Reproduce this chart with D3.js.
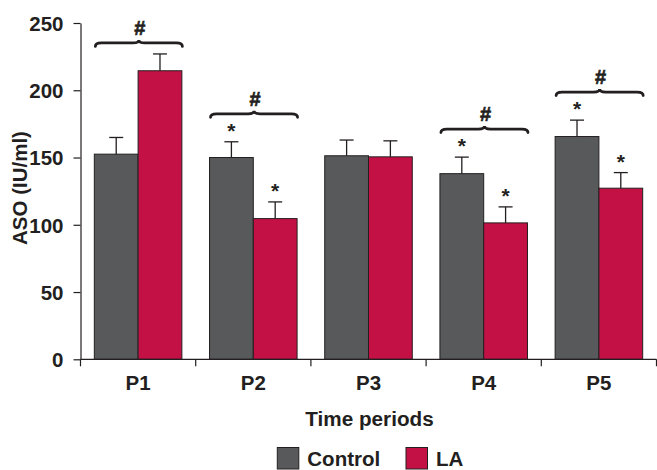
<!DOCTYPE html>
<html>
<head>
<meta charset="utf-8">
<script src="https://cdn.jsdelivr.net/npm/d3@7"></script>
<style>
  body { margin: 0; background: #fff; }
  text { font-family: "Liberation Sans", Arial, Helvetica, sans-serif; font-weight: bold; fill: #231f20; }
</style>
</head>
<body>
<div id="chart"></div>
<script>
const periods = ["P1", "P2", "P3", "P4", "P5"];
const series = ["Control", "LA"];
const control = [152.5, 150, 151.3, 138, 165.6];
const controlErr = [12.4, 11.7, 11.7, 12.3, 12.2];
const la = [214.5, 104.6, 150.5, 101.4, 127.2];
const laErr = [12.5, 12.4, 11.9, 11.9, 11.6];
const controlStar = [false, true, false, true, true];
const laStar = [false, true, false, true, true];
const hash = [true, true, false, true, true];
const yTicks = [0, 50, 100, 150, 200, 250];

const colors = { Control: "#58595b", LA: "#c41145" };
const ink = "#231f20";

const width = 657, height = 470;
const margin = { left: 80.5, right: 0.5, top: 23, bottom: 110.7 };

const svg = d3.select("#chart").append("svg")
  .attr("width", width).attr("height", height);

const x0 = d3.scaleBand().domain(periods)
  .range([margin.left, width - margin.right]).padding(0);
const x1 = d3.scaleBand().domain(series)
  .range([x0.bandwidth() * 0.12, x0.bandwidth() * 0.88]).padding(0);
const y = d3.scaleLinear().domain([0, 250])
  .range([height - margin.bottom, margin.top]);

// rows of data
const rows = periods.map((p, i) => ({
  period: p,
  hash: hash[i],
  bars: [
    { key: "Control", value: control[i], err: controlErr[i], star: controlStar[i] },
    { key: "LA", value: la[i], err: laErr[i], star: laStar[i] }
  ]
}));

// y axis
const yAxis = svg.append("g")
  .attr("transform", `translate(${margin.left},0)`)
  .call(d3.axisLeft(y).tickValues(yTicks).tickSize(7).tickPadding(10).tickSizeOuter(0));
yAxis.select(".domain").attr("stroke", ink).attr("stroke-width", 1.2);
yAxis.selectAll(".tick line").attr("stroke", ink).attr("stroke-width", 1.2);
yAxis.selectAll(".tick text").attr("font-size", 20.5).attr("fill", ink)
  .attr("font-family", null).attr("dy", "0.36em");

// groups
const groups = svg.append("g").selectAll("g")
  .data(rows).join("g")
  .attr("transform", (d) => `translate(${x0(d.period)},0)`);

groups.selectAll("rect")
  .data((d) => d.bars).join("rect")
  .attr("x", (d) => x1(d.key))
  .attr("y", (d) => y(d.value))
  .attr("width", x1.bandwidth())
  .attr("height", (d) => y(0) - y(d.value))
  .attr("fill", (d) => colors[d.key])
  .attr("stroke", ink).attr("stroke-width", 1);

// error bars
const eb = groups.selectAll("g.err")
  .data((d) => d.bars).join("g").attr("class", "err")
  .attr("stroke", ink).attr("stroke-width", 1.3);
eb.append("line")
  .attr("x1", (d) => x1(d.key) + x1.bandwidth() / 2)
  .attr("x2", (d) => x1(d.key) + x1.bandwidth() / 2)
  .attr("y1", (d) => y(d.value))
  .attr("y2", (d) => y(d.value + d.err));
eb.append("line")
  .attr("x1", (d) => x1(d.key) + x1.bandwidth() / 2 - 7)
  .attr("x2", (d) => x1(d.key) + x1.bandwidth() / 2 + 7)
  .attr("y1", (d) => y(d.value + d.err))
  .attr("y2", (d) => y(d.value + d.err));

// stars
groups.selectAll("text.star")
  .data((d) => d.bars.filter((b) => b.star)).join("text").attr("class", "star")
  .attr("x", (d) => x1(d.key) + x1.bandwidth() / 2)
  .attr("y", (d) => y(d.value + d.err) - 4)
  .attr("text-anchor", "middle").attr("font-size", 21)
  .text("*");

// braces with #
function bracePath(a, b, yb) {
  const m = (a + b) / 2, ym = yb - 3.5, yt = yb - 6.5, q = 6;
  return `M${a},${yb} Q${a},${ym} ${a + q},${ym} L${m - q},${ym} Q${m},${ym} ${m},${yt}` +
    ` Q${m},${ym} ${m + q},${ym} L${b - q},${ym} Q${b},${ym} ${b},${yb}`;
}
const braced = groups.filter((d) => d.hash);
braced.each(function (d) {
  const g = d3.select(this);
  const top = d3.min(d.bars, (b) => y(b.value + b.err));
  const anyStar = d.bars.some((b) => b.star);
  const yb = top - (anyStar ? 24.5 : 7.5);
  const a = x1("Control") + 1, b = x1("LA") + x1.bandwidth() + 0.5;
  g.append("path").attr("d", bracePath(a, b, yb))
    .attr("fill", "none").attr("stroke", ink).attr("stroke-width", 2.8)
    .attr("stroke-linecap", "round");
  g.append("text").attr("x", (a + b) / 2 + 1).attr("y", yb - 11.5)
    .attr("text-anchor", "middle").attr("font-size", 20)
    .attr("stroke", ink).attr("stroke-width", 0.6).text("#");
});

// x axis
const base = y(0);
svg.append("line").attr("x1", margin.left).attr("x2", width - margin.right)
  .attr("y1", base).attr("y2", base).attr("stroke", ink).attr("stroke-width", 1.2);
const bounds = periods.map((p) => x0(p)).concat([x0(periods[4]) + x0.bandwidth()]);
svg.append("g").selectAll("line").data(bounds).join("line")
  .attr("x1", (d) => d).attr("x2", (d) => d)
  .attr("y1", base).attr("y2", base + 7)
  .attr("stroke", ink).attr("stroke-width", 1.2);
svg.append("g").selectAll("text").data(periods).join("text")
  .attr("x", (d) => x0(d) + x0.bandwidth() / 2)
  .attr("y", base + 31)
  .attr("text-anchor", "middle").attr("font-size", 20.5)
  .text((d) => d);

// axis titles
svg.append("text")
  .attr("x", (margin.left + width - margin.right) / 2 + 1).attr("y", 425.5)
  .attr("text-anchor", "middle").attr("font-size", 20.7).text("Time periods");
svg.append("text")
  .attr("transform", `translate(27,188) rotate(-90)`)
  .attr("text-anchor", "middle").attr("font-size", 20.5).text("ASO (IU/ml)");

// legend
const legendX = [277.3, 406];
const legend = svg.append("g").selectAll("g").data(series).join("g")
  .attr("transform", (d, i) => `translate(${legendX[i]},447.5)`);
legend.append("rect").attr("width", 21.5).attr("height", 21.5)
  .attr("fill", (d) => colors[d]).attr("stroke", ink).attr("stroke-width", 1);
legend.append("text").attr("x", 30).attr("y", 18.5).attr("font-size", 20.5)
  .text((d) => d);
</script>
</body>
</html>
